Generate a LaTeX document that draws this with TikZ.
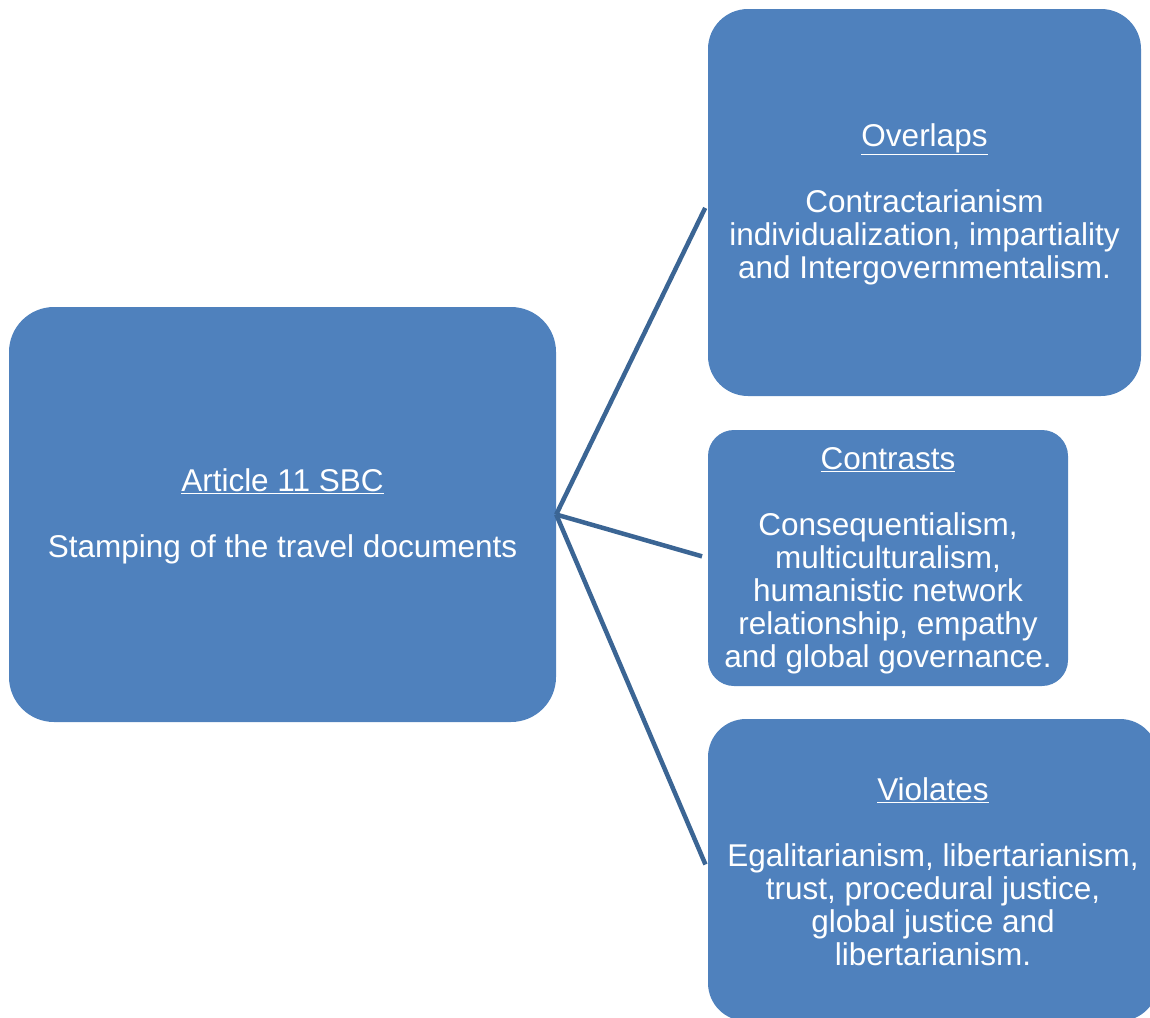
\documentclass[tikz,border=0pt]{standalone}
\usepackage{fontspec}
\setmainfont{Liberation Sans}
\definecolor{boxfill}{HTML}{4F81BD}
\definecolor{linkline}{HTML}{3B6594}
% a little extra room above each heading
\newcommand\headstrut{\rule{0pt}{27pt}}
\begin{document}
\begin{tikzpicture}[x=1pt,y=-1pt,
  card/.style={fill=boxfill, draw=none, text=white, align=center,
    inner sep=0pt, font=\fontsize{31.5}{33}\selectfont},
  link/.style={draw=linkline, line width=4.5pt, shorten >=6pt}]
\useasboundingbox (0,0) rectangle (1150,1017);
\begin{scope}
\clip (0,0) rectangle (1150,1017);
\node[card, rounded corners=45pt, minimum width=547pt, minimum height=415pt]
  (art) at (282.5,514.5) {\headstrut\underline{Article 11 SBC}\\[33pt]Stamping of the travel documents};
\node[card, rounded corners=40pt, minimum width=433pt, minimum height=387pt]
  (ovl) at (924.5,202.5) {\headstrut\underline{Overlaps}\\[33pt]Contractarianism\\individualization, impartiality\\and Intergovernmentalism.};
\node[card, rounded corners=26pt, minimum width=360pt, minimum height=256pt]
  (con) at (888,558) {\headstrut\underline{Contrasts}\\[33pt]Consequentialism,\\multiculturalism,\\humanistic network\\relationship, empathy\\and global governance.};
\node[card, rounded corners=38pt, minimum width=450pt, minimum height=302pt]
  (vio) at (933,870) {\headstrut\underline{Violates}\\[33pt]Egalitarianism, libertarianism,\\trust, procedural justice,\\global justice and\\libertarianism.};
\end{scope}
\draw[link] (art.east) -- (ovl.west);
\draw[link] (art.east) -- (con.west);
\draw[link] (art.east) -- (vio.west);
\end{tikzpicture}
\end{document}
